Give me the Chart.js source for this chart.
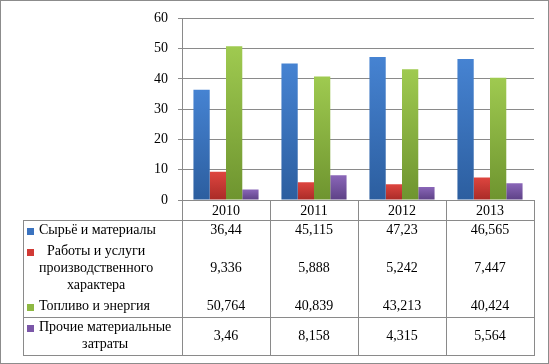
<!DOCTYPE html>
<html>
<head>
<meta charset="utf-8">
<script src="https://cdn.jsdelivr.net/npm/chart.js@4.4.1/dist/chart.umd.min.js"></script>
<style>
    html, body { margin: 0; padding: 0; background: #fff; }
    #wrap { width: 549px; height: 364px; }
</style>
</head>
<body>
<div id="wrap"><canvas id="chart" width="549" height="364"></canvas></div>
<script>
// Categories and series values
const years = ["2010", "2011", "2012", "2013"];
const rawMaterials = [36.44, 45.115, 47.23, 46.565];
const services = [9.336, 5.888, 5.242, 7.447];
const fuelEnergy = [50.764, 40.839, 43.213, 40.424];
const otherCosts = [3.46, 8.158, 4.315, 5.564];
const yTicks = [0, 10, 20, 30, 40, 50, 60];

// Series labels, already split into lines like in the data table
const seriesLabels = [
    ["Сырьё и материалы"],
    ["Работы и услуги", "производственного", "характера"],
    ["Топливо и энергия"],
    ["Прочие материальные", "затраты"],
];

// top / bottom colours for the bar gradients
const palette = [
    ["#4683d2", "#2c5e9f"],
    ["#de453f", "#a92b27"],
    ["#9fca50", "#6e942f"],
    ["#8a66b8", "#5d4186"],
];
const keyColors = ["#3b73bf", "#d13a35", "#8eb843", "#7b57a8"];

const FONT = "Liberation Serif, Times New Roman, serif";
const LINE = "#8a8a8a";
const LINE_H = 17;

function barGradient(i) {
    return (context) => {
        const chart = context.chart;
        const area = chart.chartArea;
        if (!area || context.parsed === undefined) return palette[i][0];
        const top = chart.scales.y.getPixelForValue(context.parsed.y);
        const g = chart.ctx.createLinearGradient(0, top, 0, area.bottom);
        g.addColorStop(0, palette[i][0]);
        g.addColorStop(1, palette[i][1]);
        return g;
    };
}

function fmt(v) {
    return String(v).replace(".", ",");
}

// Draws the Excel-like data table under the plot
const dataTable = {
    id: "dataTable",
    afterDraw(chart) {
        const ctx = chart.ctx;
        const area = chart.chartArea;
        const xs = chart.scales.x;
        const colW = xs.width / years.length;
        const tableLeft = 23;
        const headerBottom = area.bottom + 20;
        const seriesData = chart.data.datasets.map((d) => d.data);

        // row bounds from the number of label lines
        const rows = [];
        let y = headerBottom;
        seriesLabels.forEach((lines) => {
            const h = lines.length * LINE_H + 4;
            rows.push({ top: y, bottom: y + h });
            y += h;
        });
        const tableBottom = y;

        ctx.save();
        ctx.strokeStyle = LINE;
        ctx.lineWidth = 1;
        const hLine = (x1, x2, yy) => {
            ctx.beginPath();
            ctx.moveTo(x1, Math.round(yy) + 0.5);
            ctx.lineTo(x2, Math.round(yy) + 0.5);
            ctx.stroke();
        };
        const vLine = (xx, y1, y2) => {
            ctx.beginPath();
            ctx.moveTo(Math.round(xx) + 0.5, y1);
            ctx.lineTo(Math.round(xx) + 0.5, y2);
            ctx.stroke();
        };

        // grid of the table
        hLine(tableLeft, area.right + 1, headerBottom);
        hLine(tableLeft, area.right + 1, rows[3].top);
        hLine(tableLeft, area.right + 1, tableBottom);
        vLine(tableLeft, headerBottom, tableBottom);
        for (let i = 0; i <= years.length; i++) {
            const x = i < years.length ? xs.getPixelForValue(i) - colW / 2 : area.right;
            vLine(x, area.bottom, tableBottom);
        }

        ctx.fillStyle = "#000";
        ctx.font = "14px " + FONT;
        ctx.textBaseline = "middle";
        ctx.textAlign = "center";

        // year header
        years.forEach((yr, i) => {
            ctx.fillText(yr, xs.getPixelForValue(i), (area.bottom + headerBottom) / 2 + 1);
        });

        // rows: legend key, label, values
        seriesLabels.forEach((lines, s) => {
            const r = rows[s];
            const textTop = r.top + 2 + LINE_H / 2;
            const blockW = Math.max(...lines.map((l) => ctx.measureText(l).width));
            const textLeft = 39;
            lines.forEach((l, k) => {
                ctx.fillText(l, textLeft + blockW / 2, textTop + k * LINE_H);
            });
            ctx.fillStyle = keyColors[s];
            ctx.fillRect(27, Math.round(textTop) - 3, 7, 7);
            ctx.fillStyle = "#000";

            const mid = (r.top + r.bottom) / 2;
            seriesData[s].forEach((v, i) => {
                ctx.fillText(fmt(v), xs.getPixelForValue(i), mid);
            });
        });

        // outer border
        ctx.strokeStyle = "#8c8c8c";
        ctx.strokeRect(0.5, 0.5, chart.width - 1, chart.height - 1);
        ctx.restore();
    },
};

const ctx = document.getElementById("chart").getContext("2d");

new Chart(ctx, {
    type: "bar",
    data: {
        labels: years,
        datasets: [
            { label: seriesLabels[0].join(" "), data: rawMaterials, backgroundColor: barGradient(0) },
            { label: seriesLabels[1].join(" "), data: services, backgroundColor: barGradient(1) },
            { label: seriesLabels[2].join(" "), data: fuelEnergy, backgroundColor: barGradient(2) },
            { label: seriesLabels[3].join(" "), data: otherCosts, backgroundColor: barGradient(3) },
        ],
    },
    options: {
        responsive: false,
        animation: false,
        devicePixelRatio: 1,
        datasets: {
            bar: {
                categoryPercentage: 0.74,
                barPercentage: 1,
                borderWidth: 0,
            },
        },
        layout: {
            padding: { top: 15, right: 15, left: 0, bottom: 0 },
        },
        scales: {
            x: {
                ticks: { display: false },
                grid: { display: false },
                border: { display: true, color: LINE },
                afterFit: (scale) => { scale.height = 164; },
            },
            y: {
                min: 0,
                max: 60,
                afterBuildTicks: (scale) => {
                    scale.ticks = yTicks.map((v) => ({ value: v }));
                },
                ticks: {
                    color: "#000",
                    padding: 10,
                    font: { family: FONT, size: 14 },
                },
                grid: { color: LINE, lineWidth: 1, tickLength: 4 },
                border: { display: true, color: LINE },
                afterFit: (scale) => { scale.width = 182; },
            },
        },
        plugins: {
            legend: { display: false },
            tooltip: { enabled: false },
        },
    },
    plugins: [dataTable],
});
</script>
</body>
</html>
